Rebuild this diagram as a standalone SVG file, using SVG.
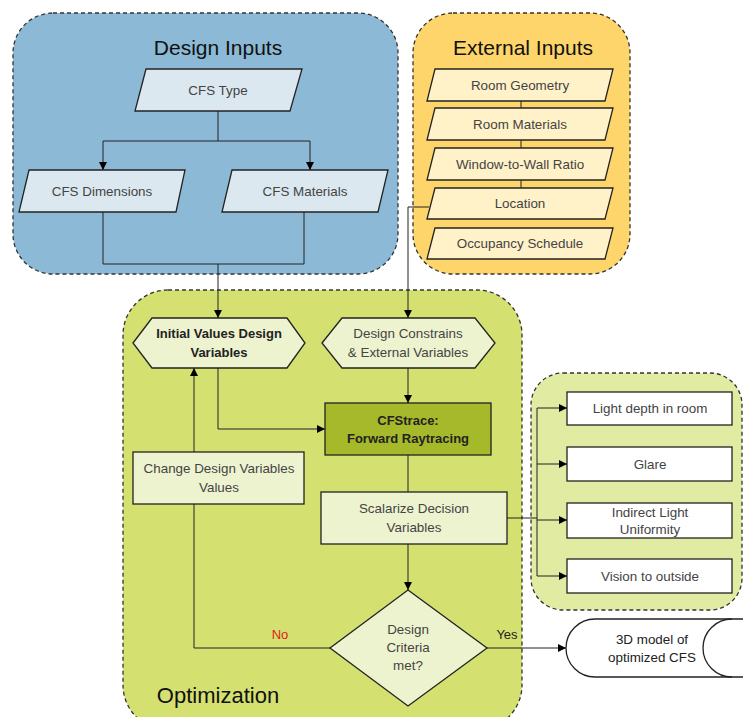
<svg xmlns="http://www.w3.org/2000/svg" width="743" height="717" viewBox="0 0 743 717">
<defs>
<marker id="arr" viewBox="0 0 10 10" refX="10" refY="5" markerWidth="8" markerHeight="8" markerUnits="userSpaceOnUse" orient="auto">
<path d="M0,0 L10,5 L0,10 z" fill="#000"/>
</marker>
<style>
.grp{stroke:#333;stroke-width:1.3;stroke-dasharray:4,3}
.n{stroke:#222;stroke-width:1.3}
.t{font-family:"Liberation Sans",Arial,sans-serif;font-size:13.4px;fill:#444;text-anchor:middle}
.tb{font-family:"Liberation Sans",Arial,sans-serif;font-size:13px;fill:#222;text-anchor:middle;font-weight:bold}
.title{font-family:"Liberation Sans",Arial,sans-serif;font-size:21px;fill:#111;text-anchor:middle}
.c{fill:none;stroke:#222;stroke-width:1}
.ca{fill:none;stroke:#222;stroke-width:1;marker-end:url(#arr)}
</style>
</defs>
<rect width="743" height="717" fill="#fff"/>
<g id="group-design-inputs">
<rect x="13" y="13" width="385" height="261" rx="40" fill="#8cb9d5" class="grp"/>
<text x="218" y="55" class="title">Design Inputs</text>
</g>
<g id="group-external-inputs">
<rect x="413" y="13" width="217" height="261" rx="40" fill="#fdd56a" class="grp"/>
<text x="523" y="55" class="title">External Inputs</text>
</g>
<g id="group-optimization">
<rect x="123" y="290" width="399" height="440" rx="45" fill="#d4e06f" class="grp"/>
<text x="218" y="703" class="title" style="font-size:22px">Optimization</text>
</g>
<g id="group-objectives">
<rect x="531" y="373" width="211" height="237" rx="32" fill="#e1eba2" class="grp"/>
</g>
<g id="connectors">
<path class="c" d="M218,111 V141 H103"/>
<path class="ca" d="M103,141 V170"/>
<path class="ca" d="M218,141 H310 V170"/>
<path class="c" d="M103,212 V264 H304 V212"/>
<path class="ca" d="M218,264 V318"/>
<path class="c" d="M521,101 V108 M521,140 V148 M521,180 V188"/>
<path class="ca" d="M429,207 H408 V318"/>
<path class="ca" d="M218,368 V429 H325"/>
<path class="ca" d="M408,368 V403"/>
<path class="c" d="M408,455 V492"/>
<path class="ca" d="M408,544 V590"/>
<path class="ca" d="M330,648 H194 V368"/>
<path class="ca" d="M487,648 H566"/>
<path class="c" d="M507,518 H537"/>
<path class="c" d="M537,408 V576"/>
<path class="ca" d="M537,408 H567"/>
<path class="ca" d="M537,464 H567"/>
<path class="ca" d="M537,520 H567"/>
<path class="ca" d="M537,576 H567"/>
<text x="280" y="639" style="font-family:'Liberation Sans',Arial,sans-serif;font-size:13px;fill:#e0201a;text-anchor:middle">No</text>
<text x="507" y="639" style="font-family:'Liberation Sans',Arial,sans-serif;font-size:13px;fill:#222;text-anchor:middle">Yes</text>
</g>
<g id="cfs-type">
<polygon points="146,69 302,69 290,111 135,111" fill="#dbe8f0" class="n"/>
<text x="218" y="95" class="t">CFS Type</text>
</g>
<g id="cfs-dimensions">
<polygon points="29,170 185,170 176,212 19,212" fill="#dbe8f0" class="n"/>
<text x="102" y="196" class="t">CFS Dimensions</text>
</g>
<g id="cfs-materials">
<polygon points="232,170 388,170 378,212 222,212" fill="#dbe8f0" class="n"/>
<text x="305" y="196" class="t">CFS Materials</text>
</g>
<g id="room-geometry">
<polygon points="435,69 613,69 605,101 427,101" fill="#fff1c8" class="n"/>
<text x="520" y="90" class="t">Room Geometry</text>
</g>
<g id="room-materials">
<polygon points="435,108 613,108 605,140 427,140" fill="#fff1c8" class="n"/>
<text x="520" y="129" class="t">Room Materials</text>
</g>
<g id="window-to-wall">
<polygon points="435,148 613,148 605,180 427,180" fill="#fff1c8" class="n"/>
<text x="520" y="169" class="t">Window-to-Wall Ratio</text>
</g>
<g id="location">
<polygon points="435,188 613,188 605,219 427,219" fill="#fff1c8" class="n"/>
<text x="520" y="208" class="t">Location</text>
</g>
<g id="occupancy-schedule">
<polygon points="435,228 613,228 605,259 427,259" fill="#fff1c8" class="n"/>
<text x="520" y="248" class="t">Occupancy Schedule</text>
</g>
<g id="initial-values">
<polygon points="133,343 152,318 287,318 305,343 287,368 152,368" fill="#eef3cf" class="n"/>
<text x="219" y="338" class="tb">Initial Values Design</text>
<text x="219" y="357" class="tb">Variables</text>
</g>
<g id="design-constrains">
<polygon points="322,343 342,318 475,318 495,343 475,368 342,368" fill="#eef3cf" class="n"/>
<text x="408" y="338" class="t">Design Constrains</text>
<text x="408" y="357" class="t">&amp; External Variables</text>
</g>
<g id="cfstrace">
<rect x="325" y="403" width="166" height="52" fill="#a6b92b" class="n"/>
<text x="408" y="425" class="tb">CFStrace:</text>
<text x="408" y="443" class="tb">Forward Raytracing</text>
</g>
<g id="change-design">
<rect x="133" y="452" width="171" height="52" fill="#eef3cf" class="n"/>
<text x="219" y="473" class="t">Change Design Variables</text>
<text x="219" y="492" class="t">Values</text>
</g>
<g id="scalarize">
<rect x="321" y="492" width="186" height="52" fill="#eef3cf" class="n"/>
<text x="414" y="513" class="t">Scalarize Decision</text>
<text x="414" y="532" class="t">Variables</text>
</g>
<g id="design-criteria">
<polygon points="408,590 487,648 408,706 330,648" fill="#eef3cf" class="n"/>
<text x="408" y="634" class="t">Design</text>
<text x="408" y="652" class="t">Criteria</text>
<text x="408" y="670" class="t">met?</text>
</g>
<g id="light-depth">
<rect x="567" y="392" width="165" height="33" fill="#fff" class="n"/>
<text x="650" y="413" class="t">Light depth in room</text>
</g>
<g id="glare">
<rect x="567" y="447" width="165" height="34" fill="#fff" class="n"/>
<text x="650" y="469" class="t">Glare</text>
</g>
<g id="indirect-light">
<rect x="567" y="503" width="165" height="35" fill="#fff" class="n"/>
<text x="650" y="517" class="t">Indirect Light</text>
<text x="650" y="534" class="t">Uniformity</text>
</g>
<g id="vision">
<rect x="567" y="559" width="165" height="34" fill="#fff" class="n"/>
<text x="650" y="581" class="t">Vision to outside</text>
</g>
<g id="model-3d">
<path d="M595,619 H743 V677 H595 A29,29 0 0 1 595,619 Z" fill="#fff" stroke="none"/>
<path d="M743,619 H595 A29,29 0 0 0 595,677 H743" fill="none" class="n"/>
<path d="M732,619 A29,29 0 0 0 732,677" fill="none" class="n"/>
<text x="652" y="644" class="t" style="fill:#222">3D model of</text>
<text x="652" y="662" class="t" style="fill:#222">optimized CFS</text>
</g>
</svg>
